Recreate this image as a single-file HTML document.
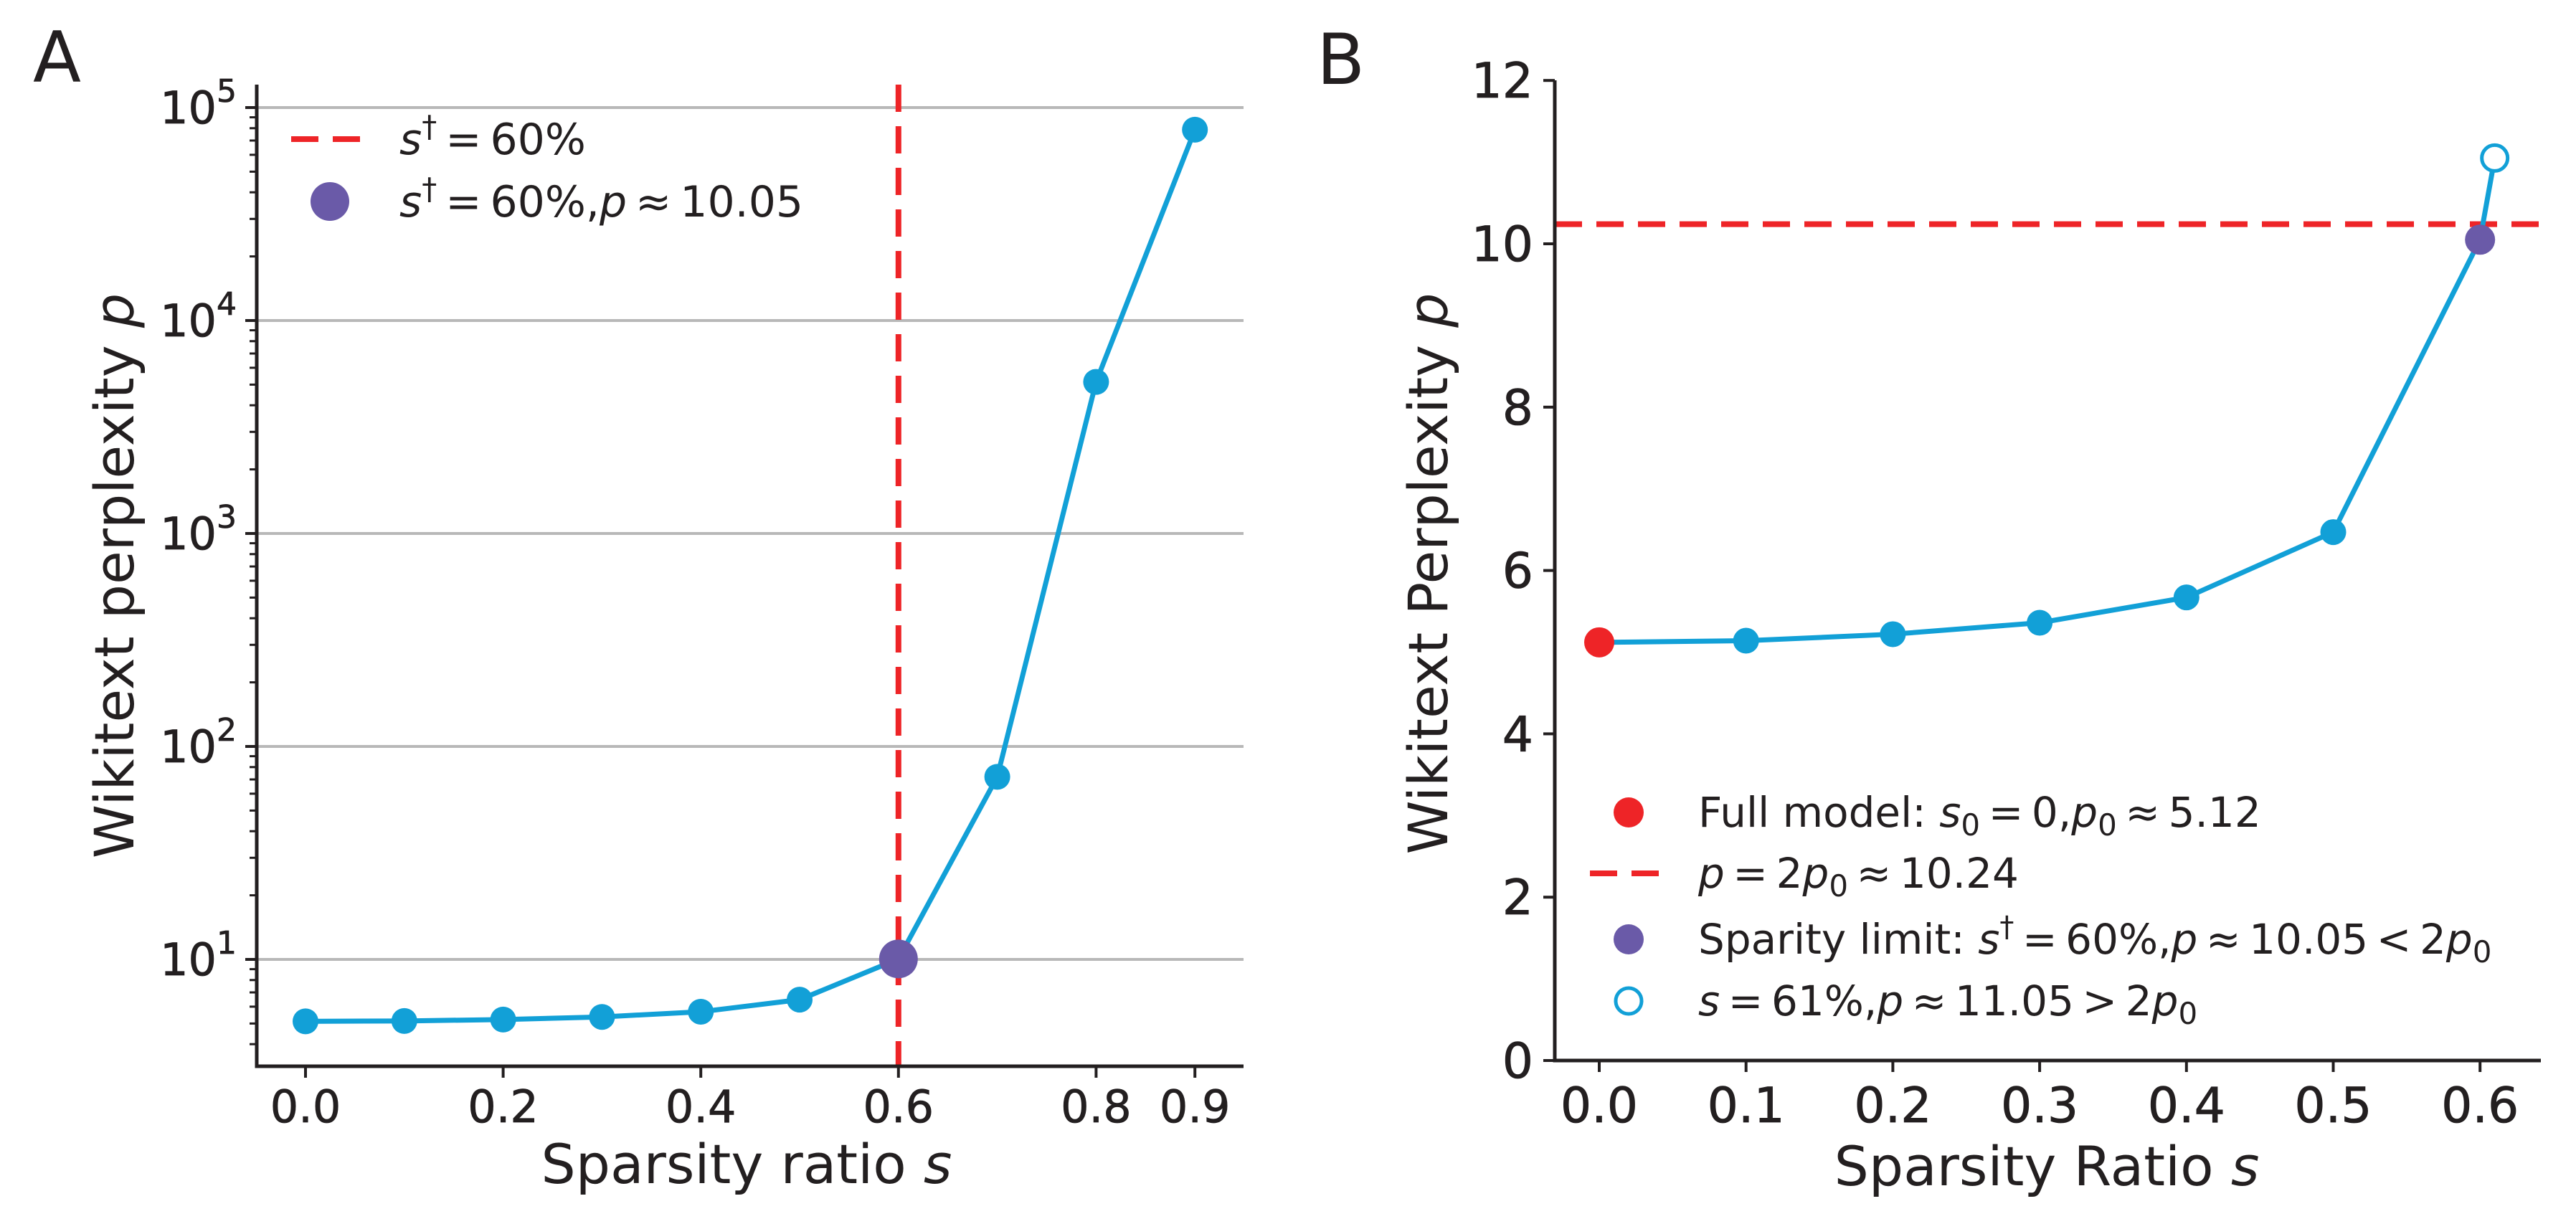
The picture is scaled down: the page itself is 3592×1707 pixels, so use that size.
<!DOCTYPE html>
<html><head><meta charset="utf-8">
<style>
html,body{margin:0;padding:0;background:#fff;}
svg{display:block;font-family:"DejaVu Sans","Liberation Sans",sans-serif;}
text{fill:#231f20;}
</style></head>
<body>
<svg id="fig" width="3592" height="1707" viewBox="0 0 3592 1707" xmlns="http://www.w3.org/2000/svg"></svg>
<script>
// ---- Panel A data ----
const sparsityA = [0.0,0.1,0.2,0.3,0.4,0.5,0.6,0.7,0.8,0.9];
const perplexityA = [5.12,5.14,5.22,5.37,5.68,6.47,10.05,72,5150,78700];
const xTicksA = [0.0,0.2,0.4,0.6,0.8,0.9];
const yDecadesA = [1,2,3,4,5];
const limitSA = 0.6;
const limitPA = 10.05;
// ---- Panel B data ----
const sparsityB = [0.0,0.1,0.2,0.3,0.4,0.5,0.6];
const perplexityB = [5.12,5.14,5.22,5.36,5.67,6.47,10.05];
const xTicksB = [0.0,0.1,0.2,0.3,0.4,0.5,0.6];
const yTicksB = [0,2,4,6,8,10,12];
const overS = [0.61];
const overP = [11.05];
const thresholdB = [10.24];

const NS="http://www.w3.org/2000/svg";
const svg=document.getElementById('fig');
const BLUE="#12a0d7",RED="#ee2427",PURP="#6a5aa8",GRID="#b8b8b8",INK="#231f20";
const TS="\u2009";
function el(tag,attrs,parent){const e=document.createElementNS(NS,tag);for(const k in attrs)e.setAttribute(k,attrs[k]);(parent||svg).appendChild(e);return e;}

// ===== Panel A =====
const A={l:358,r:1734,t:118,b:1487};
const xA=s=>426+s*1378;
const yA=p=>1338-(Math.log10(p)-1)*297;
const gA=el('g',{});


yDecadesA.forEach(d=>{
  const y=yA(Math.pow(10,d));
  const g=el('line',{x1:A.l,x2:A.r,y1:y,y2:y,stroke:GRID,'stroke-width':4},gA);
  
  
  const tk=el('line',{x1:A.l-16,x2:A.l,y1:y,y2:y,stroke:INK,'stroke-width':4},gA);
  
  
  const t=el('text',{x:A.l-28,y:y+22,'font-size':62,'text-anchor':'end',stroke:INK,'stroke-width':0.8},gA);
  
  
  t.innerHTML='10<tspan dy="-30" font-size="44">'+d+'</tspan>';
});
for(let d=0;d<=5;d++){for(let m=2;m<=9;m++){const v=m*Math.pow(10,d);const y=yA(v);if(y<A.t||y>A.b)continue;
  const mt=el('line',{x1:A.l-10,x2:A.l,y1:y,y2:y,stroke:INK,'stroke-width':3},gA);
  
  }}
xTicksA.forEach(s=>{const x=xA(s);
  const tk=el('line',{x1:x,x2:x,y1:A.b,y2:A.b+16,stroke:INK,'stroke-width':4},gA);
  
  
  const t=el('text',{x:x,y:1565,'font-size':62,'text-anchor':'middle',stroke:INK,'stroke-width':0.8},gA);
  
  
  t.textContent=s.toFixed(1);});
const vd=el('line',{x1:xA(limitSA),x2:xA(limitSA),y1:A.t,y2:A.b,stroke:RED,'stroke-width':8,'stroke-dasharray':'38 20'},gA);


const pathA=sparsityA.map((s,i)=>(i?'L':'M')+xA(s)+' '+yA(perplexityA[i])).join(' ');
const lA=el('path',{d:pathA,fill:'none',stroke:BLUE,'stroke-width':7},gA);


sparsityA.forEach((s,i)=>{const c=el('circle',{cx:xA(s),cy:yA(perplexityA[i]),r:18,fill:BLUE},gA);
  
  });
const pa=el('circle',{cx:xA(limitSA),cy:yA(limitPA),r:27,fill:PURP},gA);


const axA=el('path',{d:`M${A.l} ${A.t} L${A.l} ${A.b} L${A.r} ${A.b}`,fill:'none',stroke:INK,'stroke-width':5},gA);


const lgA=el('g',{},gA);


el('line',{x1:406,x2:515,y1:194,y2:194,stroke:RED,'stroke-width':8,'stroke-dasharray':'38 20'},lgA);
let t1=el('text',{x:557,y:215,'font-size':60},lgA);


t1.innerHTML='<tspan font-style="italic">s</tspan><tspan dy="-24" font-size="42">†</tspan><tspan dy="24">'+TS+'='+TS+'60%</tspan>';
el('circle',{cx:460,cy:281,r:27,fill:PURP},lgA);
let t2=el('text',{x:557,y:302,'font-size':60},lgA);


t2.innerHTML='<tspan font-style="italic">s</tspan><tspan dy="-24" font-size="42">†</tspan><tspan dy="24">'+TS+'='+TS+'60%,</tspan><tspan font-style="italic">p</tspan>'+TS+'≈'+TS+'10.05';
let xlA=el('text',{x:1041,y:1650,'font-size':76,'text-anchor':'middle'},gA);


xlA.innerHTML='Sparsity ratio <tspan font-style="italic">s</tspan>';
let ylA=el('text',{x:0,y:0,'font-size':76,'text-anchor':'middle',transform:'translate(186,803) rotate(-90)'},gA);


ylA.innerHTML='Wikitext perplexity <tspan font-style="italic">p</tspan>';
let pA=el('text',{x:46,y:114,'font-size':98},gA);


pA.textContent='A';

// ===== Panel B =====
const B={l:2168,r:3543,t:112,b:1479};
const xB=s=>2230+s*2047;
const yB=p=>1479-p*113.9;
const gB=el('g',{});


yTicksB.forEach(v=>{const y=yB(v);
  const tk=el('line',{x1:B.l-16,x2:B.l,y1:y,y2:y,stroke:INK,'stroke-width':4},gB);
  
  
  const t=el('text',{x:B.l-30,y:y+24,'font-size':68,'text-anchor':'end',stroke:INK,'stroke-width':0.8},gB);
  
  
  t.textContent=v;});
xTicksB.forEach(s=>{const x=xB(s);
  const tk=el('line',{x1:x,x2:x,y1:B.b,y2:B.b+16,stroke:INK,'stroke-width':4},gB);
  
  
  const t=el('text',{x:x,y:1565,'font-size':68,'text-anchor':'middle',stroke:INK,'stroke-width':0.8},gB);
  
  
  t.textContent=s.toFixed(1);});
const hd=el('line',{x1:B.l,x2:B.r,y1:yB(thresholdB[0]),y2:yB(thresholdB[0]),stroke:RED,'stroke-width':8,'stroke-dasharray':'38 20'},gB);


const allS=sparsityB.concat(overS), allP=perplexityB.concat(overP);
const pathB=allS.map((s,i)=>(i?'L':'M')+xB(s)+' '+yB(allP[i])).join(' ');
const lB=el('path',{d:pathB,fill:'none',stroke:BLUE,'stroke-width':7},gB);


sparsityB.forEach((s,i)=>{let fill=BLUE,r=18;
  if(i===0){fill=RED;r=21;} if(i===sparsityB.length-1){fill=PURP;r=21;}
  const c=el('circle',{cx:xB(s),cy:yB(perplexityB[i]),r:r,fill:fill},gB);
  
  });
overS.forEach((s,i)=>{const c=el('circle',{cx:xB(s),cy:yB(overP[i]),r:18,fill:'#fff',stroke:BLUE,'stroke-width':5},gB);
  
  });
const axB=el('path',{d:`M${B.l} ${B.t} L${B.l} ${B.b} L${B.r} ${B.b}`,fill:'none',stroke:INK,'stroke-width':5},gB);


const lgB=el('g',{},gB);


const sub='<tspan dy="12" font-size="42">0</tspan><tspan dy="-12">';
el('circle',{cx:2271,cy:1133,r:21,fill:RED},lgB);
let b1=el('text',{x:2368,y:1153,'font-size':58},lgB);


b1.innerHTML='Full model: <tspan font-style="italic">s</tspan>'+sub+TS+'='+TS+'0,</tspan><tspan font-style="italic">p</tspan>'+sub+TS+'≈'+TS+'5.12</tspan>';
el('line',{x1:2217,x2:2325,y1:1218,y2:1218,stroke:RED,'stroke-width':8,'stroke-dasharray':'38 20'},lgB);
let b2=el('text',{x:2368,y:1238,'font-size':58},lgB);


b2.innerHTML='<tspan font-style="italic">p</tspan>'+TS+'='+TS+'2<tspan font-style="italic">p</tspan>'+sub+TS+'≈'+TS+'10.24</tspan>';
el('circle',{cx:2271,cy:1310,r:21,fill:PURP},lgB);
let b3=el('text',{x:2368,y:1330,'font-size':58},lgB);


b3.innerHTML='Sparity limit: <tspan font-style="italic">s</tspan><tspan dy="-24" font-size="40">†</tspan><tspan dy="24">'+TS+'='+TS+'60%,</tspan><tspan font-style="italic">p</tspan>'+TS+'≈'+TS+'10.05'+TS+'&lt;'+TS+'2<tspan font-style="italic">p</tspan>'+sub+'</tspan>';
el('circle',{cx:2271,cy:1396,r:18,fill:'#fff',stroke:BLUE,'stroke-width':5},lgB);
let b4=el('text',{x:2368,y:1416,'font-size':58},lgB);


b4.innerHTML='<tspan font-style="italic">s</tspan>'+TS+'='+TS+'61%,<tspan font-style="italic">p</tspan>'+TS+'≈'+TS+'11.05'+TS+'&gt;'+TS+'2<tspan font-style="italic">p</tspan>'+sub+'</tspan>';
let xlB=el('text',{x:2854,y:1653,'font-size':76,'text-anchor':'middle'},gB);


xlB.innerHTML='Sparsity Ratio <tspan font-style="italic">s</tspan>';
let ylB=el('text',{x:0,y:0,'font-size':76,'text-anchor':'middle',transform:'translate(2018,800) rotate(-90)'},gB);


ylB.innerHTML='Wikitext Perplexity <tspan font-style="italic">p</tspan>';
let pB=el('text',{x:1836,y:117,'font-size':98},gB);


pB.textContent='B';
</script>
</body></html>
